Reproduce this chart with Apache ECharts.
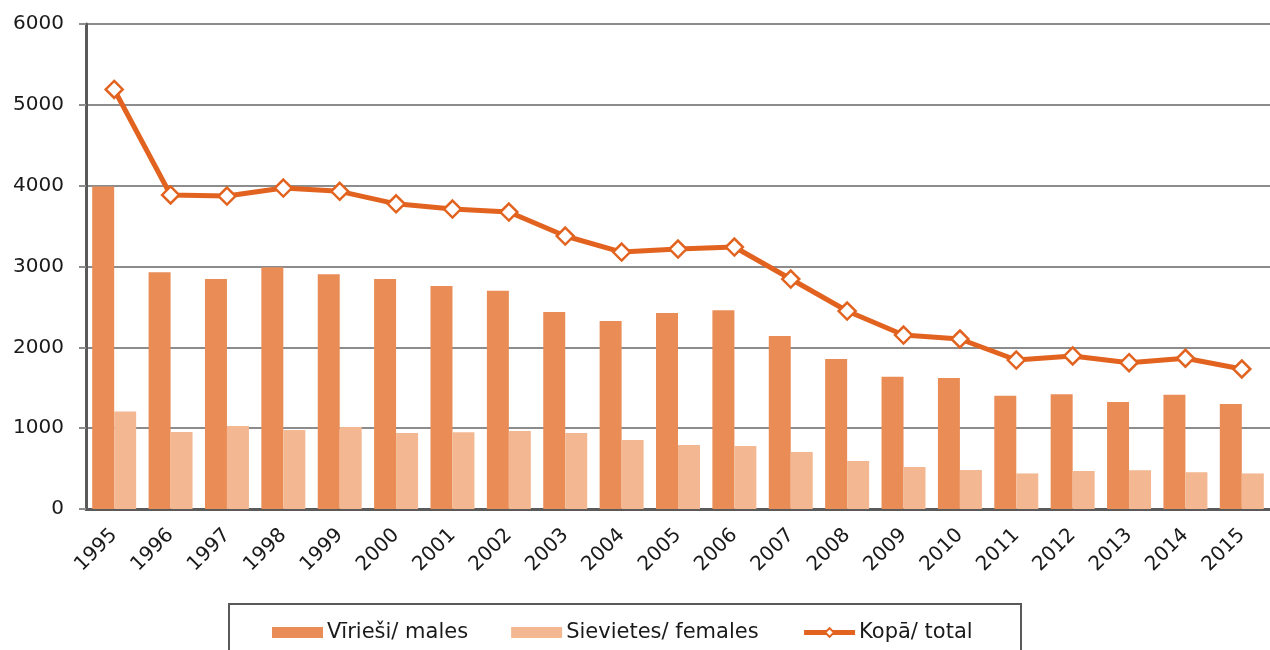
<!DOCTYPE html>
<html>
<head>
<meta charset="utf-8">
<script src="https://cdn.jsdelivr.net/npm/echarts@6/dist/echarts.min.js"></script>
<style>
  html, body { margin: 0; padding: 0; background: #fff; }
  #chart { width: 1270px; height: 650px; }
</style>
</head>
<body>
<div id="chart"></div>
<script>
const years = ["1995", "1996", "1997", "1998", "1999", "2000", "2001", "2002", "2003", "2004", "2005",
  "2006", "2007", "2008", "2009", "2010", "2011", "2012", "2013", "2014", "2015"];
const males = [3990, 2930, 2845, 2990, 2905, 2845, 2760, 2700, 2437, 2326, 2425,
  2460, 2140, 1856, 1635, 1620, 1400, 1420, 1324, 1412, 1298];
const females = [1205, 953, 1027, 977, 1014, 940, 950, 965, 940, 854, 792,
  779, 705, 594, 520, 482, 440, 470, 480, 455, 440];
const totals = [5190, 3885, 3872, 3971, 3930, 3775, 3711, 3674, 3377, 3179, 3216,
  3241, 2845, 2449, 2152, 2103, 1843, 1893, 1810, 1865, 1732];
const yTicks = [0, 1000, 2000, 3000, 4000, 5000, 6000];

const font = "DejaVu Sans";
const orange = "#E2631F";
const chart = echarts.init(document.getElementById("chart"));

chart.setOption({
  animation: false,
  textStyle: { fontFamily: font },
  grid: { left: 86, right: 0, top: 24, bottom: 141 },
  graphic: [{
    type: "rect",
    shape: { x: 229, y: 604, width: 792, height: 60 },
    style: { fill: "#fff", stroke: "#595959", lineWidth: 2 },
    z: 0
  }],
  legend: {
    left: 267,
    top: 617,
    itemWidth: 51,
    itemHeight: 11,
    itemGap: 43,
    textStyle: { fontFamily: font, fontSize: 21, color: "#1a1a1a", padding: [0, 0, 0, -1] },
    data: [
      { name: "Vīrieši/ males", icon: "rect" },
      { name: "Sievietes/ females", icon: "rect" },
      { name: "Kopā/ total", lineStyle: { width: 5 }, itemStyle: { borderWidth: 2 } }
    ]
  },
  xAxis: {
    type: "category",
    data: years,
    axisLine: { lineStyle: { color: "#5a5a5a", width: 3 } },
    axisTick: { length: 7, lineStyle: { color: "#5a5a5a", width: 3 } },
    axisLabel: { rotate: 45, fontSize: 20, color: "#1a1a1a", margin: 23 }
  },
  yAxis: {
    type: "value",
    min: yTicks[0],
    max: yTicks[yTicks.length - 1],
    interval: 1000,
    axisLine: { show: true, lineStyle: { color: "#5a5a5a", width: 3 } },
    axisTick: { show: true, length: 7, lineStyle: { color: "#8c8c8c", width: 2 } },
    axisLabel: { fontSize: 20, color: "#1a1a1a", margin: 22, formatter: v => String(v) },
    splitLine: { lineStyle: { color: "#8c8c8c", width: 2 } }
  },
  series: [
    {
      name: "Vīrieši/ males",
      type: "bar",
      data: males,
      barGap: "0%",
      barCategoryGap: "22%",
      itemStyle: { color: "#E98C56" }
    },
    {
      name: "Sievietes/ females",
      type: "bar",
      data: females,
      itemStyle: { color: "#F3B892" }
    },
    {
      name: "Kopā/ total",
      type: "line",
      data: totals,
      symbol: "diamond",
      symbolSize: 17,
      lineStyle: { color: orange, width: 5 },
      itemStyle: { color: "#fff", borderColor: orange, borderWidth: 2.5 },
      z: 5
    }
  ]
});
</script>
</body>
</html>
